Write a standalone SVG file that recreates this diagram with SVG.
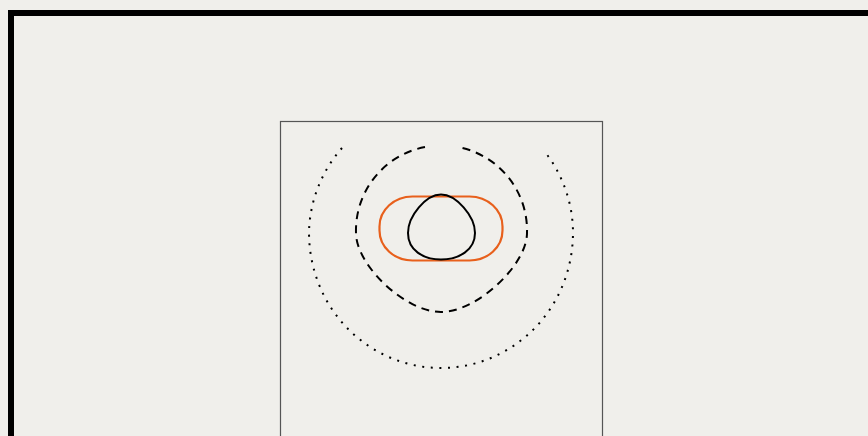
<svg xmlns="http://www.w3.org/2000/svg" width="868" height="436" viewBox="0 0 868 436">
<style>
.curve{fill:none;stroke:#000;stroke-width:2}
</style>
<rect x="0" y="0" width="868" height="436" fill="#f0efeb"/>
<g id="frame">
<rect x="11" y="13" width="900" height="500" fill="none" stroke="#000" stroke-width="6"/>
</g>
<g id="panel">
<rect x="280.5" y="121.5" width="322" height="340" fill="none" stroke="#555" stroke-width="1.2"/>
</g>
<g id="shapes">
<path id="dotted" class="curve" stroke-width="2.2" stroke-dasharray="2 6.6" d="M342,148 A132,132 0 0 0 309,232 C309,310 370,368 441,368 C512,368 573,310 573,232 A132,132 0 0 0 545,152"/>
<path id="dashed" class="curve" stroke-width="2.2" stroke-dasharray="8 6" d="M425,147 A85,85 0 0 0 356,233 C356,265 405,312 441,312 C477,312 527,265 527,233 A85,85 0 0 0 458,147"/>
<rect id="stadium" x="379.5" y="196.5" width="123" height="64" rx="33" ry="30" fill="none" stroke="#e8601c" stroke-width="2.2"/>
<path id="blob" class="curve" d="M441,194.5 C456,194.5 475,216 475,233 C475,250 459,259.5 441,259.5 C423,259.5 408,250 408,233 C408,216 426,194.5 441,194.5 Z"/>
</g>
</svg>
